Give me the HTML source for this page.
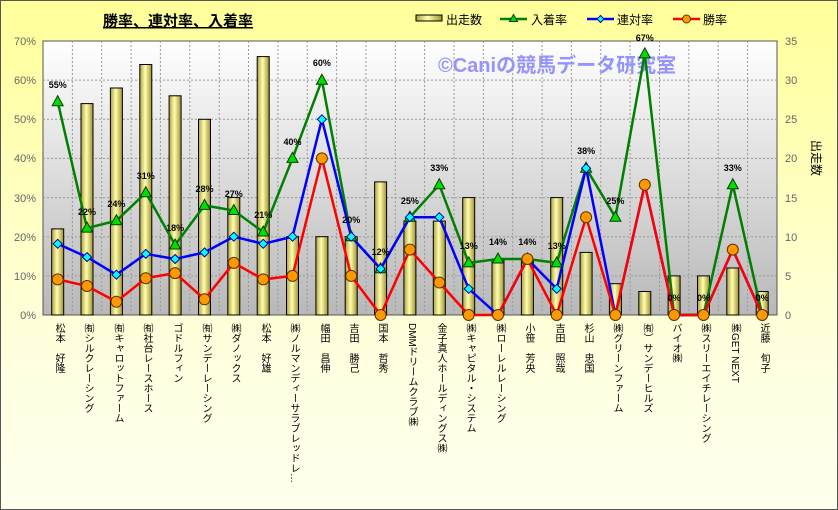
<!DOCTYPE html>
<html><head><meta charset="utf-8"><style>
body{margin:0;width:838px;height:510px;overflow:hidden;font-family:"Liberation Sans","Noto Sans CJK JP",sans-serif}
.wrap{position:relative;width:836px;height:508px;border:1px solid #555;background:linear-gradient(#ffff99,#ffffe0 70%,#ffffee)}
.xl{position:absolute;top:322px;writing-mode:vertical-rl;font-size:10px;line-height:12px;color:#000;white-space:nowrap;font-family:"Liberation Sans","Noto Sans CJK JP",sans-serif}
</style></head><body><div class="wrap">
<svg width="838" height="510" style="position:absolute;left:-1px;top:-1px" font-family="Liberation Sans, Noto Sans CJK JP, sans-serif">
<defs>
<linearGradient id="pg" x1="0" y1="0" x2="0" y2="1"><stop offset="0" stop-color="#ffffff"/><stop offset="1" stop-color="#b8b8b8"/></linearGradient>
<linearGradient id="bg" x1="0" y1="0" x2="1" y2="0"><stop offset="0" stop-color="#b0a040"/><stop offset="0.45" stop-color="#ffffb0"/><stop offset="1" stop-color="#a09030"/></linearGradient>
</defs>
<rect x="43" y="41" width="734" height="274" fill="url(#pg)" stroke="#555"/>
<g stroke="#999" stroke-dasharray="2,2" stroke-width="1">
<line x1="43" y1="80.1" x2="777" y2="80.1"/><line x1="43" y1="119.3" x2="777" y2="119.3"/><line x1="43" y1="158.4" x2="777" y2="158.4"/><line x1="43" y1="197.6" x2="777" y2="197.6"/><line x1="43" y1="236.7" x2="777" y2="236.7"/><line x1="43" y1="275.9" x2="777" y2="275.9"/>
<line x1="72.4" y1="41" x2="72.4" y2="315"/><line x1="101.7" y1="41" x2="101.7" y2="315"/><line x1="131.1" y1="41" x2="131.1" y2="315"/><line x1="160.4" y1="41" x2="160.4" y2="315"/><line x1="189.8" y1="41" x2="189.8" y2="315"/><line x1="219.2" y1="41" x2="219.2" y2="315"/><line x1="248.5" y1="41" x2="248.5" y2="315"/><line x1="277.9" y1="41" x2="277.9" y2="315"/><line x1="307.2" y1="41" x2="307.2" y2="315"/><line x1="336.6" y1="41" x2="336.6" y2="315"/><line x1="365.9" y1="41" x2="365.9" y2="315"/><line x1="395.3" y1="41" x2="395.3" y2="315"/><line x1="424.6" y1="41" x2="424.6" y2="315"/><line x1="454" y1="41" x2="454" y2="315"/><line x1="483.4" y1="41" x2="483.4" y2="315"/><line x1="512.7" y1="41" x2="512.7" y2="315"/><line x1="542.1" y1="41" x2="542.1" y2="315"/><line x1="571.4" y1="41" x2="571.4" y2="315"/><line x1="600.8" y1="41" x2="600.8" y2="315"/><line x1="630.1" y1="41" x2="630.1" y2="315"/><line x1="659.5" y1="41" x2="659.5" y2="315"/><line x1="688.8" y1="41" x2="688.8" y2="315"/><line x1="718.2" y1="41" x2="718.2" y2="315"/><line x1="747.6" y1="41" x2="747.6" y2="315"/>
</g>
<text x="438" y="72" font-size="20" font-weight="bold" fill="#9494ff">©Caniの競馬データ研究室</text>
<g fill="url(#bg)" stroke="#000" stroke-width="1">
<rect x="51.7" y="228.9" width="12" height="86.1"/><rect x="81" y="103.6" width="12" height="211.4"/><rect x="110.4" y="88" width="12" height="227"/><rect x="139.8" y="64.5" width="12" height="250.5"/><rect x="169.1" y="95.8" width="12" height="219.2"/><rect x="198.5" y="119.3" width="12" height="195.7"/><rect x="227.8" y="197.6" width="12" height="117.4"/><rect x="257.2" y="56.6" width="12" height="258.4"/><rect x="286.5" y="236.7" width="12" height="78.3"/><rect x="315.9" y="236.7" width="12" height="78.3"/><rect x="345.2" y="236.7" width="12" height="78.3"/><rect x="374.6" y="181.9" width="12" height="133.1"/><rect x="403.9" y="221.1" width="12" height="93.9"/><rect x="433.3" y="221.1" width="12" height="93.9"/><rect x="462.7" y="197.6" width="12" height="117.4"/><rect x="492" y="260.2" width="12" height="54.8"/><rect x="521.4" y="260.2" width="12" height="54.8"/><rect x="550.7" y="197.6" width="12" height="117.4"/><rect x="580.1" y="252.4" width="12" height="62.6"/><rect x="609.4" y="283.7" width="12" height="31.3"/><rect x="638.8" y="291.5" width="12" height="23.5"/><rect x="668.1" y="275.9" width="12" height="39.1"/><rect x="697.5" y="275.9" width="12" height="39.1"/><rect x="726.8" y="268" width="12" height="47"/><rect x="756.2" y="291.5" width="12" height="23.5"/>
</g>
<polyline fill="none" stroke="#008000" stroke-width="2.5" points="57.7,101.7 87,228.1 116.4,220.7 145.8,192.7 175.1,245 204.5,205.4 233.8,210.5 263.2,232 292.5,158.4 321.9,80.2 351.2,236.7 380.6,268.8 409.9,217.2 439.3,184.7 468.7,262.9 498,259 527.4,259 556.7,262.9 586.1,168.2 615.4,217.2 644.8,53.9 674.1,315 703.5,315 732.8,184.7 762.2,315"/>
<polyline fill="none" stroke="#0000ff" stroke-width="2.5" points="57.7,243.8 87,257.1 116.4,274.7 145.8,253.9 175.1,259 204.5,252.4 233.8,236.7 263.2,243.8 292.5,236.7 321.9,119.3 351.2,236.7 380.6,268.8 409.9,217.2 439.3,217.2 468.7,288.8 498,315 527.4,259 556.7,288.8 586.1,168.2 615.4,315 644.8,184.7 674.1,315 703.5,315 732.8,249.6 762.2,315"/>
<polyline fill="none" stroke="#ff0000" stroke-width="2.5" points="57.7,279.4 87,286 116.4,301.7 145.8,278.2 175.1,273.1 204.5,299.3 233.8,262.9 263.2,279.4 292.5,275.9 321.9,158.4 351.2,275.9 380.6,315 409.9,249.6 439.3,282.5 468.7,315 498,315 527.4,259 556.7,315 586.1,217.2 615.4,315 644.8,184.7 674.1,315 703.5,315 732.8,249.6 762.2,315"/>
<g fill="#00dd00" stroke="#004000" stroke-width="1">
<path d="M57.7,95.7l5.5,10h-11z"/><path d="M87,222.1l5.5,10h-11z"/><path d="M116.4,214.7l5.5,10h-11z"/><path d="M145.8,186.7l5.5,10h-11z"/><path d="M175.1,239l5.5,10h-11z"/><path d="M204.5,199.4l5.5,10h-11z"/><path d="M233.8,204.5l5.5,10h-11z"/><path d="M263.2,226l5.5,10h-11z"/><path d="M292.5,152.4l5.5,10h-11z"/><path d="M321.9,74.2l5.5,10h-11z"/><path d="M351.2,230.7l5.5,10h-11z"/><path d="M380.6,262.8l5.5,10h-11z"/><path d="M409.9,211.2l5.5,10h-11z"/><path d="M439.3,178.7l5.5,10h-11z"/><path d="M468.7,256.9l5.5,10h-11z"/><path d="M498,253l5.5,10h-11z"/><path d="M527.4,253l5.5,10h-11z"/><path d="M556.7,256.9l5.5,10h-11z"/><path d="M586.1,162.2l5.5,10h-11z"/><path d="M615.4,211.2l5.5,10h-11z"/><path d="M644.8,47.9l5.5,10h-11z"/><path d="M732.8,178.7l5.5,10h-11z"/>
</g>
<g fill="#00ffff" stroke="#0000a0" stroke-width="1">
<path d="M57.7,239.3l4.5,4.5l-4.5,4.5l-4.5,-4.5z"/><path d="M87,252.6l4.5,4.5l-4.5,4.5l-4.5,-4.5z"/><path d="M116.4,270.2l4.5,4.5l-4.5,4.5l-4.5,-4.5z"/><path d="M145.8,249.4l4.5,4.5l-4.5,4.5l-4.5,-4.5z"/><path d="M175.1,254.5l4.5,4.5l-4.5,4.5l-4.5,-4.5z"/><path d="M204.5,247.9l4.5,4.5l-4.5,4.5l-4.5,-4.5z"/><path d="M233.8,232.2l4.5,4.5l-4.5,4.5l-4.5,-4.5z"/><path d="M263.2,239.3l4.5,4.5l-4.5,4.5l-4.5,-4.5z"/><path d="M292.5,232.2l4.5,4.5l-4.5,4.5l-4.5,-4.5z"/><path d="M321.9,114.8l4.5,4.5l-4.5,4.5l-4.5,-4.5z"/><path d="M351.2,232.2l4.5,4.5l-4.5,4.5l-4.5,-4.5z"/><path d="M380.6,264.3l4.5,4.5l-4.5,4.5l-4.5,-4.5z"/><path d="M409.9,212.7l4.5,4.5l-4.5,4.5l-4.5,-4.5z"/><path d="M439.3,212.7l4.5,4.5l-4.5,4.5l-4.5,-4.5z"/><path d="M468.7,284.3l4.5,4.5l-4.5,4.5l-4.5,-4.5z"/><path d="M527.4,254.5l4.5,4.5l-4.5,4.5l-4.5,-4.5z"/><path d="M556.7,284.3l4.5,4.5l-4.5,4.5l-4.5,-4.5z"/><path d="M586.1,163.7l4.5,4.5l-4.5,4.5l-4.5,-4.5z"/><path d="M732.8,245.1l4.5,4.5l-4.5,4.5l-4.5,-4.5z"/>
</g>
<g fill="#ff9900" stroke="#603000" stroke-width="1">
<circle cx="57.7" cy="279.4" r="5.5"/><circle cx="87" cy="286" r="5.5"/><circle cx="116.4" cy="301.7" r="5.5"/><circle cx="145.8" cy="278.2" r="5.5"/><circle cx="175.1" cy="273.1" r="5.5"/><circle cx="204.5" cy="299.3" r="5.5"/><circle cx="233.8" cy="262.9" r="5.5"/><circle cx="263.2" cy="279.4" r="5.5"/><circle cx="292.5" cy="275.9" r="5.5"/><circle cx="321.9" cy="158.4" r="5.5"/><circle cx="351.2" cy="275.9" r="5.5"/><circle cx="380.6" cy="315" r="5.5"/><circle cx="409.9" cy="249.6" r="5.5"/><circle cx="439.3" cy="282.5" r="5.5"/><circle cx="468.7" cy="315" r="5.5"/><circle cx="498" cy="315" r="5.5"/><circle cx="527.4" cy="259" r="5.5"/><circle cx="556.7" cy="315" r="5.5"/><circle cx="586.1" cy="217.2" r="5.5"/><circle cx="615.4" cy="315" r="5.5"/><circle cx="644.8" cy="184.7" r="5.5"/><circle cx="674.1" cy="315" r="5.5"/><circle cx="703.5" cy="315" r="5.5"/><circle cx="732.8" cy="249.6" r="5.5"/><circle cx="762.2" cy="315" r="5.5"/>
</g>
<g font-size="9" font-weight="bold" text-anchor="middle" fill="#000">
<text x="57.7" y="88">55%</text><text x="87" y="215">22%</text><text x="116.4" y="207">24%</text><text x="145.8" y="179">31%</text><text x="175.1" y="231">18%</text><text x="204.5" y="192">28%</text><text x="233.8" y="197">27%</text><text x="263.2" y="218">21%</text><text x="292.5" y="145">40%</text><text x="321.9" y="66">60%</text><text x="351.2" y="223">20%</text><text x="380.6" y="255">12%</text><text x="409.9" y="204">25%</text><text x="439.3" y="171">33%</text><text x="468.7" y="249">13%</text><text x="498" y="245">14%</text><text x="527.4" y="245">14%</text><text x="556.7" y="249">13%</text><text x="586.1" y="154">38%</text><text x="615.4" y="204">25%</text><text x="644.8" y="41">67%</text><text x="674.1" y="301">0%</text><text x="703.5" y="301">0%</text><text x="732.8" y="171">33%</text><text x="762.2" y="301">0%</text>
</g>
<g font-size="11" fill="#666" text-anchor="end">
<text x="36" y="45">70%</text><text x="36" y="84">60%</text><text x="36" y="123">50%</text><text x="36" y="162">40%</text><text x="36" y="202">30%</text><text x="36" y="241">20%</text><text x="36" y="280">10%</text><text x="36" y="319">0%</text>
</g>
<g font-size="11" fill="#666">
<text x="785" y="45">35</text><text x="785" y="84">30</text><text x="785" y="123">25</text><text x="785" y="162">20</text><text x="785" y="202">15</text><text x="785" y="241">10</text><text x="785" y="280">5</text><text x="785" y="319">0</text>
</g>
<text x="0" y="0" font-size="12" transform="translate(812,140) rotate(90)">出走数</text>
<text x="103" y="26" font-size="15" font-weight="bold" text-decoration="underline" fill="#000">勝率、連対率、入着率</text>
<rect x="416" y="15" width="26" height="6" fill="url(#bg)" stroke="#000"/>
<text x="446" y="24" font-size="12">出走数</text>
<line x1="500" y1="19" x2="527" y2="19" stroke="#008000" stroke-width="2.5"/><path d="M513.5,14.5l4,7h-8z" fill="#00dd00" stroke="#004000"/>
<text x="531" y="24" font-size="12">入着率</text>
<line x1="587" y1="19" x2="614" y2="19" stroke="#0000ff" stroke-width="2.5"/><path d="M600.5,15.5l3.5,3.5l-3.5,3.5l-3.5,-3.5z" fill="#00ffff" stroke="#0000a0"/>
<text x="617" y="24" font-size="12">連対率</text>
<line x1="673" y1="19" x2="700" y2="19" stroke="#ff0000" stroke-width="2.5"/><circle cx="686.5" cy="19" r="4" fill="#ff9900" stroke="#603000"/>
<text x="703" y="24" font-size="12">勝率</text>
</svg>
<div class="xl" style="left:51px">松本　好隆</div>
<div class="xl" style="left:80px">㈲シルクレーシング</div>
<div class="xl" style="left:110px">㈲キャロットファーム</div>
<div class="xl" style="left:139px">㈲社台レースホース</div>
<div class="xl" style="left:169px">ゴドルフィン</div>
<div class="xl" style="left:198px">㈲サンデーレーシング</div>
<div class="xl" style="left:227px">㈱ダノックス</div>
<div class="xl" style="left:257px">松本　好雄</div>
<div class="xl" style="left:286px">㈱ノルマンディーサラブレッドレ…</div>
<div class="xl" style="left:316px">幅田　昌伸</div>
<div class="xl" style="left:345px">吉田　勝己</div>
<div class="xl" style="left:374px">国本　哲秀</div>
<div class="xl" style="left:404px">DMMドリームクラブ㈱</div>
<div class="xl" style="left:433px">金子真人ホールディングス㈱</div>
<div class="xl" style="left:462px">㈱キャピタル・システム</div>
<div class="xl" style="left:492px">㈱ローレルレーシング</div>
<div class="xl" style="left:521px">小笹　芳央</div>
<div class="xl" style="left:551px">吉田　照哉</div>
<div class="xl" style="left:580px">杉山　忠国</div>
<div class="xl" style="left:609px">㈱グリーンファーム</div>
<div class="xl" style="left:639px">㈲）サンデーヒルズ</div>
<div class="xl" style="left:668px">バイオ㈱</div>
<div class="xl" style="left:697px">㈱スリーエイチレーシング</div>
<div class="xl" style="left:727px">㈱GET NEXT</div>
<div class="xl" style="left:756px">近藤　旬子</div>
</div></body></html>
